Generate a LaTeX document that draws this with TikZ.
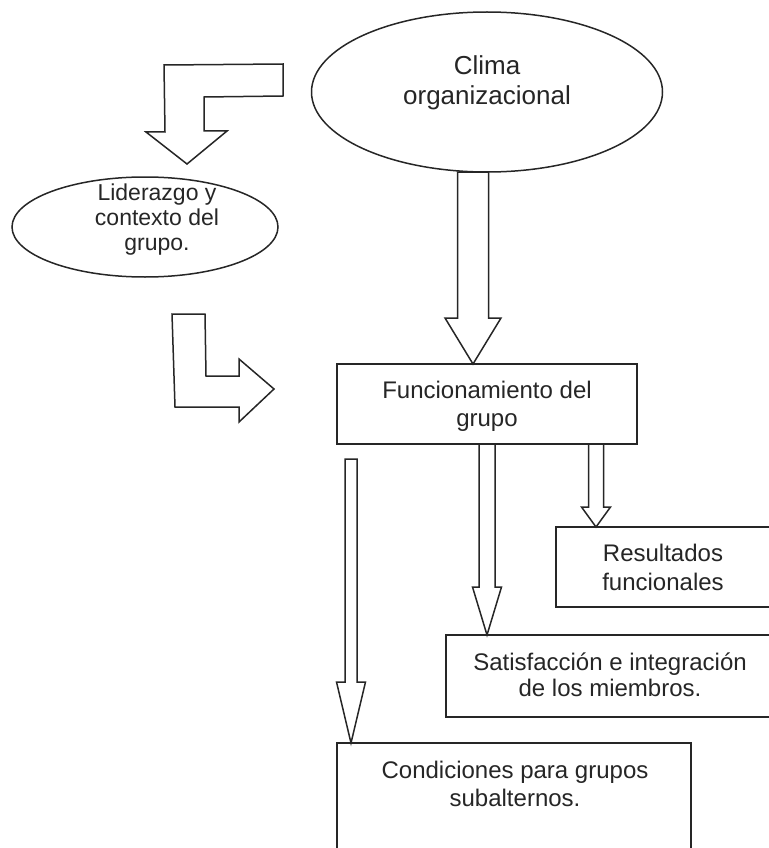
\documentclass[tikz,border=0pt]{standalone}
\usepackage{fontspec}
\setmainfont{Liberation Sans}
\usetikzlibrary{shapes.geometric,calc}
\tikzset{
  shp/.style={draw=black!85, line width=1.5pt, fill=white},
  ellip/.style={shp, ellipse, inner sep=0pt},
  boxx/.style={shp},
  txt/.style={align=center, inner sep=0pt, font=\fontsize{24}{28}\selectfont, text=black!85},
  blk/.style={draw=black!85, line width=1.5pt, fill=white, line join=miter},
}
\newcommand\blkdown[6]{%
  \draw[blk] let \p1=(#2), \p2=(#3) in
   ({#1pt-#4pt},\y1) -- ({#1pt+#4pt},\y1) -- ({#1pt+#4pt},\y2+#6pt) -- ({#1pt+#5pt},\y2+#6pt)
   -- (#1pt,\y2) -- ({#1pt-#5pt},\y2+#6pt) -- ({#1pt-#4pt},\y2+#6pt) -- cycle;}
\begin{document}
\begin{tikzpicture}[x=1pt,y=-1pt]
\useasboundingbox (0,0) rectangle (768,848);
% ellipses
\node[ellip, minimum width=351pt, minimum height=160pt] (clima) at (487,92) {};
\node[txt, font=\fontsize{26}{30}\selectfont] (climat) at (487,83) {Clima\\organizacional};
\node[ellip, minimum width=266pt, minimum height=100pt] (lider) at (145,227) {};
\node[txt, font=\fontsize{23}{25}\selectfont] (lidert) at (157,220) {Liderazgo y\\contexto del\\grupo.};
% boxes
\draw[boxx] (337,364) rectangle (637,444);
\coordinate (func) at (487,404);
\coordinate (funcS) at (487,444);
\coordinate (funcN) at (487,364);
\node[txt] (funct) at (487,406) {Funcionamiento del\\grupo};
\draw[boxx] (556,527) rectangle (772,607);
\coordinate (resN) at (596,527);
\node[txt, font=\fontsize{24}{29}\selectfont] (rest) at (663,567) {Resultados\\funcionales};
\draw[boxx] (446,635) rectangle (772,717);
\coordinate (satN) at (487,635);
\node[txt, font=\fontsize{24}{26}\selectfont] (satt) at (610,675) {Satisfacción e integración\\de los miembros.};
\draw[boxx] (337,743) rectangle (691,862);
\coordinate (condN) at (351,743);
\node[txt] (condt) at (515,784) {Condiciones para grupos\\subalternos.};
% block arrows
\coordinate (climaS) at (473,172);
\coordinate (a2top) at (351,459);
\blkdown{473}{climaS}{funcN}{15.5}{28}{46}
\blkdown{351}{a2top}{condN}{6}{14.5}{61}
\blkdown{487}{funcS}{satN}{8}{14.5}{48}
\blkdown{596}{funcS}{resN}{7.5}{14.5}{20}
% bent arrows
\draw[blk] (164,65) -- (283,64) -- (283,96) -- (204,97) -- (204,131) -- (227,131)
  -- (187,164) -- (146,132) -- (165,132) -- cycle;
\draw[blk] (172,314) -- (205,314) -- (206,376) -- (239,376) -- (239,359) -- (274,389)
  -- (239,422) -- (239,407) -- (175,407) -- cycle;
\end{tikzpicture}
\end{document}
